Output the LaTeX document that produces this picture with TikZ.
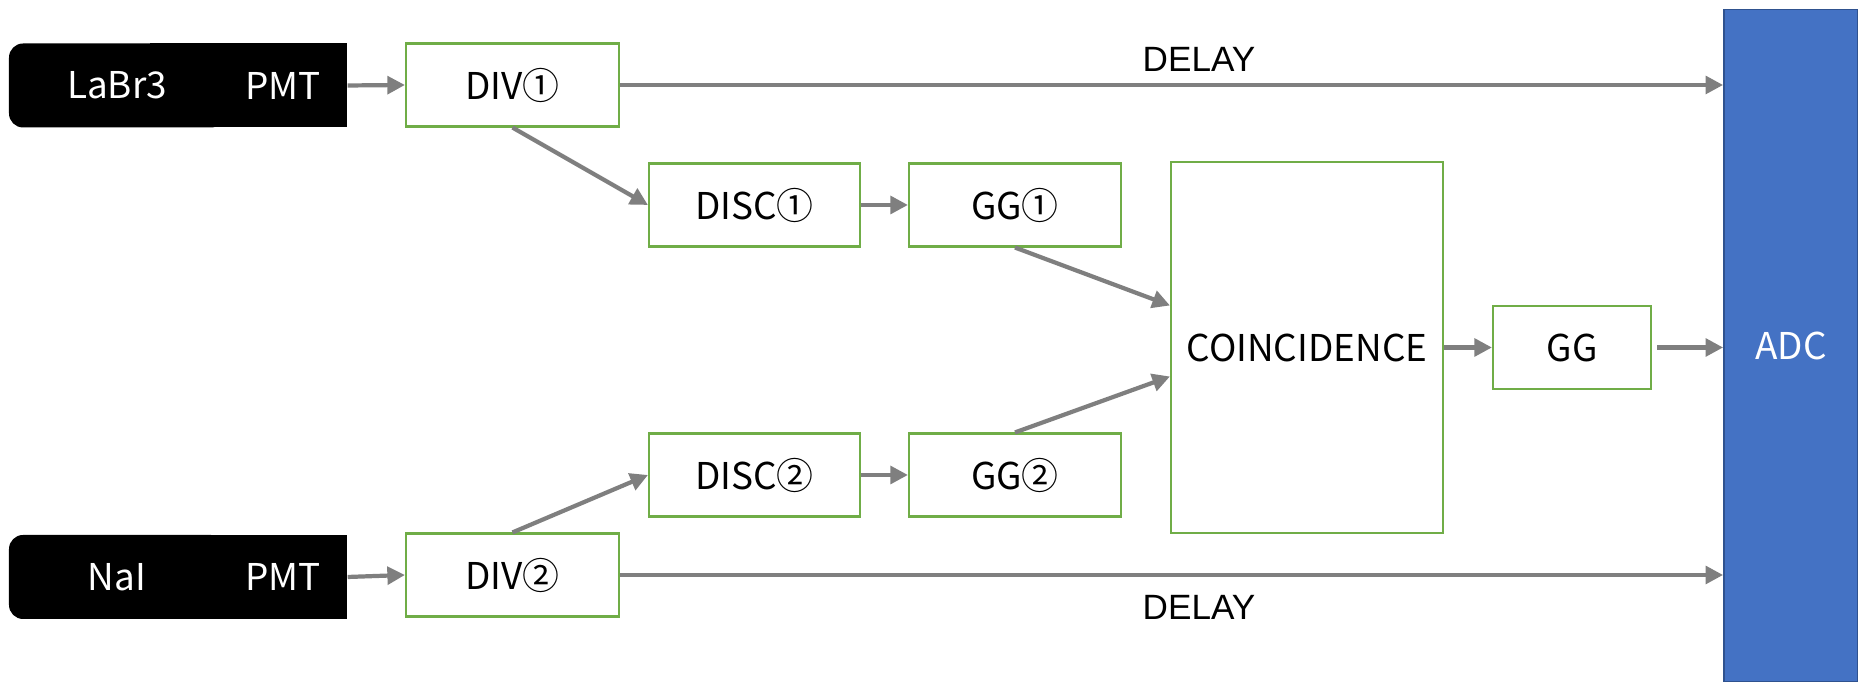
\documentclass[tikz,border=0pt]{standalone}
\usepackage{fontspec}
\usepackage{tikz}
\usetikzlibrary{arrows.meta}
\newfontfamily\jpfont{Noto Sans CJK JP}
\newfontfamily\delayfont{Liberation Sans}
\definecolor{boxgreen}{HTML}{70AD47}
\definecolor{adcblue}{HTML}{4472C4}
\definecolor{adcedge}{HTML}{2F528F}
\definecolor{wiregray}{HTML}{7F7F7F}

\begin{document}
\begin{tikzpicture}[scale=1,
    block/.style={draw=boxgreen, line width=0.6pt, fill=white, inner sep=0pt,
        minimum height=0.83cm, font=\jpfont\fontsize{10.5}{12}\selectfont},
    crystal/.style={fill=black, rounded corners=4pt, inner sep=0pt, text=white,
        minimum width=2.16cm, minimum height=0.84cm, font=\jpfont\fontsize{10.5}{12}\selectfont},
    pmt/.style={fill=black, inner sep=0pt, text=white,
        minimum width=1.28cm, minimum height=0.84cm, font=\jpfont\fontsize{10.5}{12}\selectfont},
    wire/.style={draw=wiregray, line width=1.2pt, -{Triangle[length=5pt,width=5pt]}},
    delaylabel/.style={font=\delayfont\fontsize{10}{12}\selectfont},
]

    \useasboundingbox (0,0) rectangle (18.58,6.82);

    \coordinate (c_labr) at (1.17,5.965);
    \coordinate (c_nai) at (1.17,1.05);
    \coordinate (c_div1) at (5.125,5.97);
    \coordinate (c_div2) at (5.125,1.07);
    \coordinate (c_disc1) at (7.545,4.77);
    \coordinate (c_disc2) at (7.545,2.07);
    \coordinate (c_gg1) at (10.15,4.77);
    \coordinate (c_gg2) at (10.15,2.07);
    \coordinate (c_coinc) at (13.07,3.345);
    \coordinate (c_gg) at (15.72,3.345);
    \coordinate (c_adc) at (17.91,3.3625);

    % detectors
    \path[fill=black] (1.5,5.545) rectangle (2.6,6.385);
    \path[fill=black] (1.5,0.63) rectangle (2.6,1.47);
    \node[crystal] (labr) at (c_labr) {LaBr3};
    \node[pmt] (pmt1) at (2.83,5.965) {PMT};
    \node[crystal] (nai) at (c_nai) {NaI};
    \node[pmt] (pmt2) at (2.83,1.05) {PMT};

    % modules
    \node[block, minimum width=2.13cm] (div1) at (c_div1) {DIV①};
    \node[block, minimum width=2.13cm] (div2) at (c_div2) {DIV②};
    \node[block, minimum width=2.11cm] (disc1) at (c_disc1) {DISC①};
    \node[block, minimum width=2.11cm] (disc2) at (c_disc2) {DISC②};
    \node[block, minimum width=2.12cm] (gg1) at (c_gg1) {GG①};
    \node[block, minimum width=2.12cm] (gg2) at (c_gg2) {GG②};
    \node[block, minimum width=2.72cm, minimum height=3.71cm] (coinc) at (c_coinc) {COINCIDENCE};
    \node[block, minimum width=1.58cm] (gg) at (c_gg) {GG};
    \node[fill=adcblue, draw=adcedge, line width=0.5pt, inner sep=0pt, text=white,
        minimum width=1.34cm, minimum height=6.725cm,
        font=\jpfont\fontsize{10.5}{12}\selectfont] (adc) at (c_adc) {ADC};

    \path[wire] (pmt1.east) -- (div1.west);
    \path[wire] (pmt2.east) -- (div2.west);
    \path[wire] (div1.south) -- (disc1.west);
    \path[wire] (div2.north) -- (disc2.west);
    \path[wire] (disc1.east) -- (gg1.west);
    \path[wire] (disc2.east) -- (gg2.west);
    \path[wire] (gg1.south) -- ([yshift=4.2mm]coinc.west);
    \path[wire] (gg2.north) -- ([yshift=-2.9mm]coinc.west);
    \path[wire] (coinc.east) -- (gg.west);
    \path[wire, shorten <=1.5pt] (gg.east) -- (gg.east -| adc.west);

    % delay lines
    \path[wire] (div1.east) -- (div1.east -| adc.west);
    \path[wire] (div2.east) -- (div2.east -| adc.west);
    \node[delaylabel] (delay1) at (11.99,6.23) {DELAY};
    \node[delaylabel] (delay2) at (11.99,0.75) {DELAY};

\end{tikzpicture}
\end{document}
